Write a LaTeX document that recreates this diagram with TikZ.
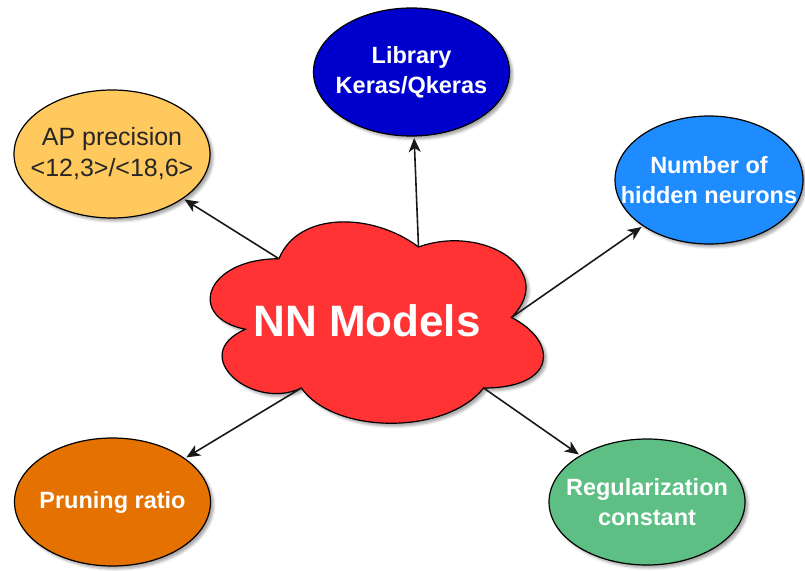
\documentclass[tikz,border=0pt]{standalone}
\usepackage{fontspec}
\setmainfont{Liberation Sans}
\usetikzlibrary{shapes.geometric,arrows.meta,shadows.blur}

\definecolor{apfill}{HTML}{FFC95E}
\definecolor{libfill}{HTML}{0000CC}
\definecolor{neufill}{HTML}{1E8CFF}
\definecolor{prufill}{HTML}{E57200}
\definecolor{regfill}{HTML}{5DBF84}
\definecolor{cloudred}{HTML}{FF3333}

\begin{document}
\begin{tikzpicture}[x=1pt,y=-1pt,
  softshadow/.style={blur shadow={shadow xshift=3pt, shadow yshift=-3pt,
      shadow blur radius=2.5pt, shadow opacity=35}},
  bubble/.style={ellipse, draw=black, line width=1.2pt,
      minimum width=196pt, minimum height=128pt, inner sep=0pt, softshadow},
  bubbletext/.style={align=center, text=white, inner sep=0pt,
      font=\fontsize{23.5}{30}\selectfont\bfseries},
  link/.style={draw=black!90, line width=1.6pt,
      -{Stealth[length=14pt,width=12pt,inset=4pt]}, shorten >=1.5pt},
]
\useasboundingbox (0,0) rectangle (805,570);

% satellite parameters
\node[bubble, fill=libfill] (lib) at (411.5,72) {};
\node[bubbletext] (libt) at (lib) {Library\\Keras/Qkeras};
\node[bubble, fill=apfill] (ap) at (112,154) {};
\node[bubbletext, text=black!85, font=\fontsize{25}{31}\selectfont]
      (apt) at (ap) {AP precision\\<12,3>/<18,6>};
\node[bubble, fill=neufill, minimum width=188pt] (neu) at (709,180) {};
\node[bubbletext] (neut) at (neu) {Number of\\hidden neurons};
\node[bubble, fill=prufill] (pru) at (112.5,502) {};
\node[bubbletext] (prut) at (pru) {Pruning ratio};
\node[bubble, fill=regfill, minimum height=126pt] (reg) at (647,502) {};
\node[bubbletext] (regt) at (reg) {Regularization\\constant};

% central cloud, drawn in its own unit box
\begin{scope}[shift={(186pt,-200pt)}, x=372pt, y=-235pt]
  \path[draw=black, line width=1.2pt, fill=cloudred, softshadow]
    (0.25,0.25) .. controls (0.05,0.25) and (0,0.5) .. (0.16,0.55)
    .. controls (0,0.66) and (0.18,0.9) .. (0.31,0.8)
    .. controls (0.4,1) and (0.7,1) .. (0.8,0.8)
    .. controls (1,0.8) and (1,0.6) .. (0.875,0.5)
    .. controls (1,0.3) and (0.8,0.1) .. (0.625,0.2)
    .. controls (0.5,0.05) and (0.3,0.05) .. (0.25,0.25) -- cycle;
  \coordinate (dipTL) at (0.25,0.25);
  \coordinate (dipT)  at (0.625,0.2);
  \coordinate (dipR)  at (0.875,0.5);
  \coordinate (dipBL) at (0.31,0.8);
  \coordinate (dipBR) at (0.8,0.8);
\end{scope}
\node[text=white, font=\fontsize{44}{50}\selectfont\bfseries, inner sep=0pt]
  (nn) at (367,321) {NN Models};

% connectors
\draw[link] (dipTL) -- (ap);
\draw[link] (dipT)  -- (lib);
\draw[link] (dipR)  -- (neu);
\draw[link] (dipBL) -- (pru);
\draw[link] (dipBR) -- (reg);
\end{tikzpicture}
\end{document}
